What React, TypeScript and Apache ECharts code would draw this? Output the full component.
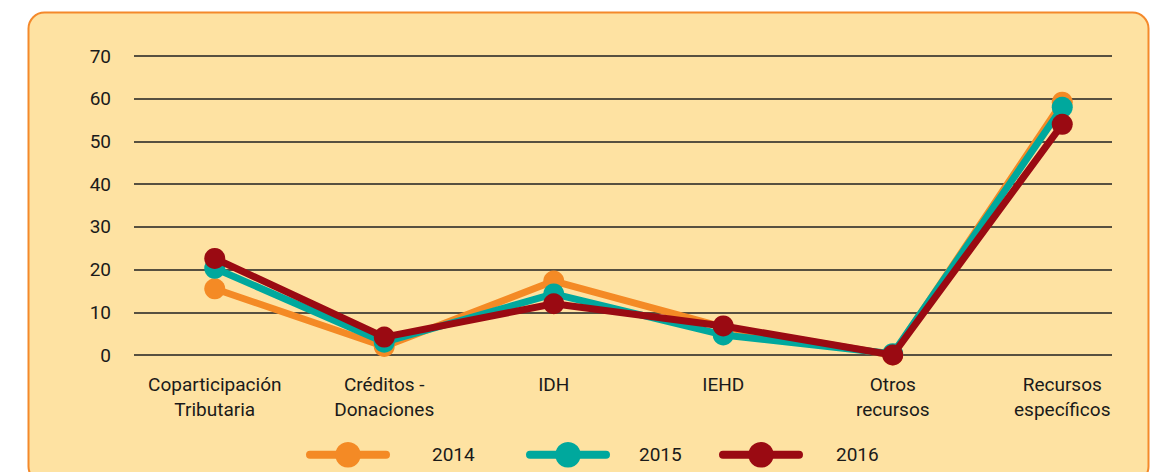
import React, { useEffect, useRef } from "react";
import * as echarts from "echarts";

const categories = [
  "Coparticipación\nTributaria",
  "Créditos -\nDonaciones",
  "IDH",
  "IEHD",
  "Otros\nrecursos",
  "Recursos\nespecíficos",
];
const s2014 = [15.5, 2, 17.3, 6.5, 0, 59.2];
const s2015 = [20.3, 3, 14.3, 4.7, 0.3, 58];
const s2016 = [22.6, 4.2, 12, 6.8, 0, 54];
const years = ["2014", "2015", "2016"];
const colors = ["#F48A25", "#00A89D", "#9A0A12"];

const FONT = "Roboto, 'Liberation Sans', sans-serif";

export default function App() {
  const ref = useRef<HTMLDivElement>(null);
  useEffect(() => {
    if (!ref.current) return;
    const chart = echarts.init(ref.current, undefined, { renderer: "svg" });
    const seriesData = [s2014, s2015, s2016];
    const legendLeft = [306, 526, 719];
    const legendPad = [41, 28, 32];
    chart.setOption({
      animation: false,
      backgroundColor: "#ffffff",
      graphic: [
        {
          type: "rect",
          z: -10,
          silent: true,
          shape: { x: 28.5, y: 12.5, width: 1120, height: 470, r: 16 },
          style: { fill: "#FEE2A2", stroke: "#F4892B", lineWidth: 2 },
        },
      ],
      grid: [
        { left: 134, right: 41, top: 56, bottom: 117 },
        { left: 130, right: 6, top: 56, bottom: 117 },
      ],
      xAxis: [
        { gridIndex: 0, type: "category", data: categories, show: false },
        {
          gridIndex: 1,
          type: "category",
          data: categories,
          boundaryGap: true,
          axisLine: { show: false },
          axisTick: { show: false },
          axisLabel: {
            color: "#1a1a1a",
            fontFamily: FONT,
            fontSize: 19,
            lineHeight: 25,
            margin: 17,
            interval: 0,
          },
        },
      ],
      yAxis: [
        {
          gridIndex: 0,
          type: "value",
          min: 0,
          max: 70,
          interval: 10,
          axisLine: { show: false },
          axisTick: { show: false },
          axisLabel: { color: "#1a1a1a", fontFamily: FONT, fontSize: 19, margin: 23 },
          splitLine: { show: true, lineStyle: { color: "#1f1f1f", width: 1.5 } },
        },
        {
          gridIndex: 1,
          type: "value",
          min: 0,
          max: 70,
          interval: 10,
          show: false,
          splitLine: { show: false },
        },
      ],
      legend: years.map((y, i) => ({
        data: [y],
        left: legendLeft[i],
        top: 442,
        padding: 0,
        itemWidth: 76,
        itemHeight: 32,
        lineStyle: { width: 8, cap: "round" },
        textStyle: {
          color: "#1a1a1a",
          fontFamily: FONT,
          fontSize: 19,
          padding: [0, 0, 0, legendPad[i]],
        },
      })),
      series: years.map((y, i) => ({
        name: y,
        type: "line",
        xAxisIndex: 1,
        yAxisIndex: 1,
        data: seriesData[i],
        z: 2 + i,
        symbol: "circle",
        symbolSize: 21,
        color: colors[i],
        lineStyle: { width: 7, color: colors[i], cap: "round", join: "round" },
        itemStyle: { color: colors[i] },
      })),
    });
    return () => chart.dispose();
  }, []);
  return (
    <div
      ref={ref}
      style={{ position: "fixed", left: 0, top: 0, width: 1153, height: 472 }}
    />
  );
}
